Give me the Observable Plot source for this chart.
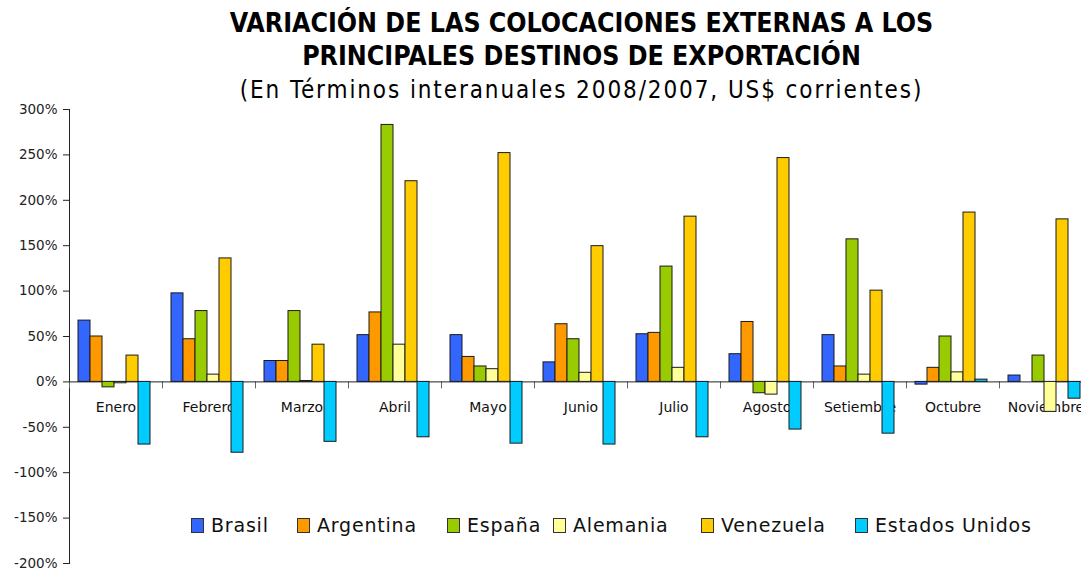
<!DOCTYPE html>
<html><head><meta charset="utf-8">
<script src="https://cdn.jsdelivr.net/npm/d3@7"></script>
<script src="https://cdn.jsdelivr.net/npm/@observablehq/plot@0.6"></script>
<style>
body{margin:0;background:#fff;}
#wrap{position:relative;width:1081px;height:570px;overflow:hidden;font-family:"DejaVu Sans",sans-serif;}
#titles{position:relative;height:100px;}
#chart svg{display:block;}
.t{position:absolute;left:41px;width:1081px;text-align:center;white-space:nowrap;color:#000;}
#t1,#t2{font-family:"DejaVu Sans Condensed","DejaVu Sans",sans-serif;font-weight:bold;font-size:26.5px;}
#t1{top:7px;} #t2{top:40px;}
#t3{top:76px;font-size:24px;font-family:"DejaVu Sans Condensed","DejaVu Sans",sans-serif;letter-spacing:1.9px;}
.lg{position:absolute;top:514px;display:flex;align-items:center;font-size:19px;letter-spacing:0.8px;color:#111;}
.sw{width:13px;height:15px;border:1px solid #333;box-sizing:border-box;margin-right:7px;}
</style></head><body>
<div id="wrap">
  <div id="titles">
    <div class="t" id="t1">VARIACIÓN DE LAS COLOCACIONES EXTERNAS A LOS</div>
    <div class="t" id="t2">PRINCIPALES DESTINOS DE EXPORTACIÓN</div>
    <div class="t" id="t3">(En Términos interanuales 2008/2007, US$ corrientes)</div>
  </div>
  <div id="chart"></div>
</div>
<script>
const months = ["Enero","Febrero","Marzo","Abril","Mayo","Junio","Julio","Agosto","Setiembre","Octubre","Noviembre"];
const series = ["Brasil","Argentina","España","Alemania","Venezuela","Estados Unidos"];
const colors = ["#3366FF","#FF9900","#99CC00","#FFFF99","#FFCC00","#00CCFF"];
const brasil    = [67.5, 97.5, 23, 51.5, 51.5, 21.5, 52.5, 30.5, 51.5, -3, 7];
const argentina = [50, 47, 23, 76.5, 27.5, 63.5, 54, 66, 17, 15.5, null];
const espana    = [-6, 78, 78, 283, 17, 47, 127, -12.5, 157, 50, 29];
const alemania  = [-1.5, 8, 1, 41, 14, 10, 15.5, -14, 8, 10.5, -33];
const venezuela = [29, 136, 41, 221, 252, 149.5, 182, 246.5, 100.5, 186.5, 179];
const eeuu      = [-69, -78, -66, -61, -68, -69, -61, -52.5, -57, 2.5, -18.5];
const yTicks = [-200,-150,-100,-50,0,50,100,150,200,250,300];

const seriesValues = [brasil, argentina, espana, alemania, venezuela, eeuu];
const rows = [];
months.forEach((m, i) => series.forEach((s, j) => {
  const v = seriesValues[j][i];
  if (v != null) rows.push({month: m, series: s, value: v});
}));

const H = 470, MT = 9, MB = 7;
const ys = Plot.scale({y: {domain: [-200, 300], range: [H - MB, MT]}});
const zeroY = ys.apply(0);

const chart = Plot.plot({
  width: 1081, height: H,
  marginLeft: 69, marginRight: -11, marginTop: MT, marginBottom: MB,
  style: {fontFamily: "DejaVu Sans", fontSize: "13.5px", color: "#222", background: "#fff"},
  fx: {domain: months, padding: 0, paddingInner: 0, paddingOuter: 0, axis: null},
  x: {domain: series, paddingInner: 0, paddingOuter: 0.72, align: 0.45, axis: null},
  y: {domain: [-200, 300], ticks: yTicks, tickFormat: d => d + "%", tickSize: 6, tickPadding: 6, label: null, line: true},
  color: {domain: series, range: colors},
  marks: [
    Plot.frame({anchor: "left", stroke: "#666", insetTop: zeroY - MT, insetBottom: (H - MB) - (zeroY + 6)}),
    Plot.text(months, {fx: d => d, y: () => 0, text: d => d, dy: 26, fontSize: 14, fill: "#111"}),
    Plot.ruleY([0], {stroke: "#222"}),
    Plot.barY(rows, {fx: "month", x: "series", y: "value", fill: "series", stroke: "#1a1a1a", strokeWidth: 1})
  ]
});
document.getElementById("chart").appendChild(chart);

const legendX = [191, 297, 447, 553, 701, 855];
const wrap = document.getElementById("wrap");
series.forEach((s, j) => {
  const d = document.createElement("div");
  d.className = "lg";
  d.style.left = legendX[j] + "px";
  const sw = document.createElement("div");
  sw.className = "sw";
  sw.style.background = colors[j];
  const t = document.createElement("span");
  t.textContent = s;
  d.appendChild(sw); d.appendChild(t);
  wrap.appendChild(d);
});
</script>
</body></html>
